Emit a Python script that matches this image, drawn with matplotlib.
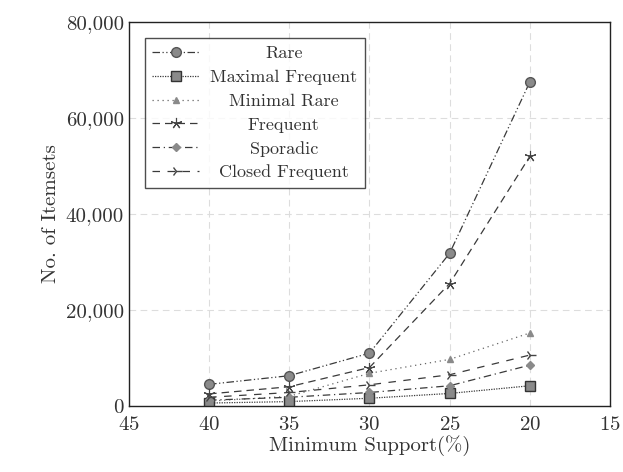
import numpy as np
import matplotlib
matplotlib.use('Agg')
import matplotlib.pyplot as plt

# dados
support = [40, 35, 30, 25, 20]
rare = [4500, 6300, 11000, 31800, 67500]
maximal_frequent = [600, 900, 1600, 2600, 4200]
minimal_rare = [1000, 2000, 6800, 9700, 15200]
frequent = [2500, 4000, 8000, 25500, 52000]
sporadic = [1200, 1800, 2800, 4200, 8500]
closed_frequent = [1800, 2800, 4400, 6500, 10600]

plt.rcParams['font.family'] = ['cmr10', 'DejaVu Serif']
plt.rcParams['axes.formatter.use_mathtext'] = True

fig = plt.figure(figsize=(6.23, 4.72), dpi=100)
ax = fig.add_axes([0.207, 0.140, 0.772, 0.813])

lc = '#3a3a3a'
fc = '#8a8a8a'
ax.plot(support, rare, color=lc, lw=0.9, ls=(0, (6, 2, 1, 2, 1, 2)), marker='o', ms=7,
        mfc=fc, mec='#555555', label='Rare')
ax.plot(support, maximal_frequent, color=lc, lw=0.9, ls=(0, (1, 1)), marker='s', ms=7,
        mfc=fc, mec='#333333', label='Maximal Frequent')
ax.plot(support, minimal_rare, color='#666666', lw=0.9, ls=(0, (1, 3)), marker='^', ms=5,
        mfc=fc, mec=fc, label='Minimal Rare')
ax.plot(support, frequent, color=lc, lw=0.9, ls=(0, (6, 4)), marker=(5, 2, 0), ms=8,
        mfc=fc, mec='#444444', mew=0.8, label='Frequent')
ax.plot(support, sporadic, color=lc, lw=0.9, ls=(0, (6, 3, 1, 3)), marker='D', ms=4.5,
        mfc=fc, mec=fc, label='Sporadic')
ax.plot(support, closed_frequent, color=lc, lw=0.9, ls=(0, (6, 6)), marker='4', ms=8,
        mfc=fc, mec='#444444', mew=1, label='Closed Frequent')

ax.set_xlim(45, 15)
ax.set_ylim(0, 80000)
ax.set_xticks([45, 40, 35, 30, 25, 20, 15])
ax.set_yticks([0, 20000, 40000, 60000, 80000])
ax.set_yticklabels(['0', '20,000', '40,000', '60,000', '80,000'])
ax.tick_params(labelsize=15, direction='in', length=0, colors='#333333')
ax.tick_params(axis='x', pad=7)
ax.grid(True, ls=(0, (6, 4)), color='#dddddd', lw=0.8)
ax.set_xlabel('Minimum Support(%)', fontsize=15, color='#333333', labelpad=1)
ax.set_ylabel('No. of Itemsets', fontsize=15, color='#333333')
for s in ax.spines.values():
    s.set_color('#222222')
    s.set_linewidth(1)

leg = ax.legend(loc='upper left', fontsize=13, frameon=True, fancybox=False,
                edgecolor='#222222', handlelength=2.6, borderaxespad=0.9,
                labelspacing=0.45, handletextpad=0.6, borderpad=0.4)
leg.get_frame().set_linewidth(1)
for t in leg.get_texts():
    t.set_color('#333333')

# centralizando os textos da legenda
fig.canvas.draw()
r = fig.canvas.get_renderer()
ws = [t.get_window_extent(r).width for t in leg.get_texts()]
for t, w in zip(leg.get_texts(), ws):
    t.set_x((max(ws) - w) / 2)

fig.savefig('out.png', dpi=100)
